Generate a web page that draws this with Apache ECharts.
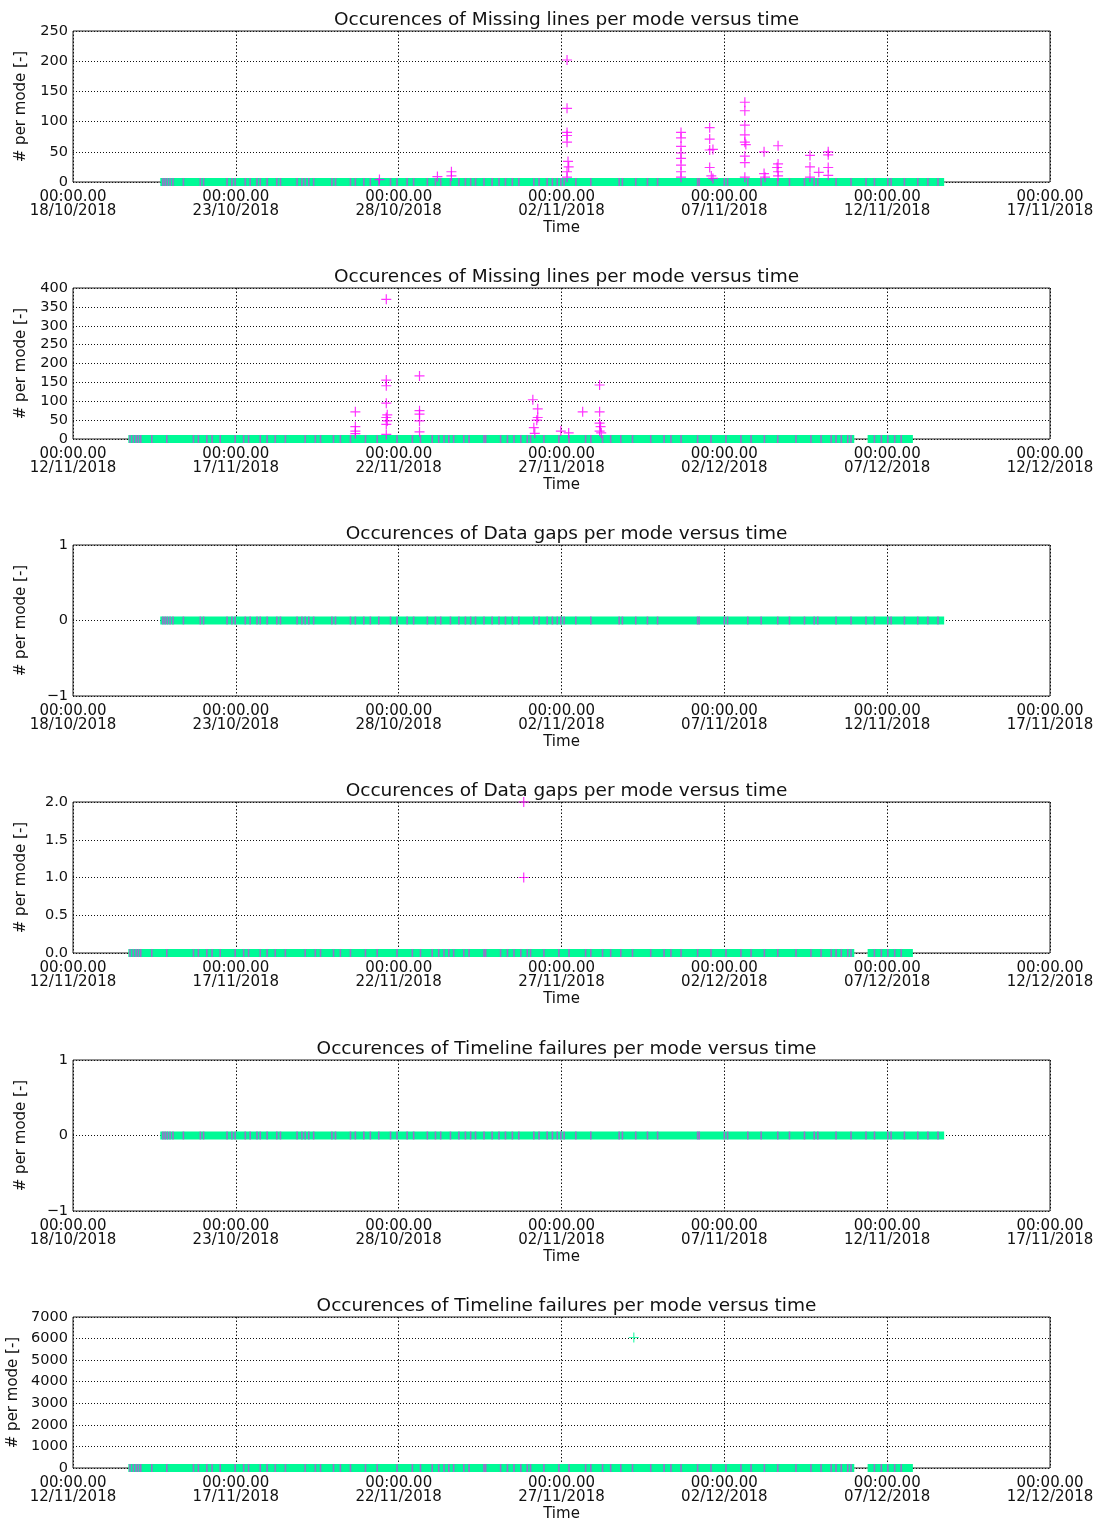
<!DOCTYPE html>
<html><head><meta charset="utf-8">
<script src="https://cdn.jsdelivr.net/npm/echarts@6/dist/echarts.min.js"></script>
<style>html,body{margin:0;padding:0;background:#fff}#c{width:1104px;height:1521px}</style>
</head><body><div id="c"></div>
<script>
// ---------------- DATA ----------------
// x values are days after the panel's start date (00:00 UTC)
const titleMissing = 'Occurences of Missing lines per mode versus time';
const titleGaps = 'Occurences of Data gaps per mode versus time';
const titleTimeline = 'Occurences of Timeline failures per mode versus time';

const startA = '2018-10-18';   // panels 1, 3, 5
const startB = '2018-11-12';   // panels 2, 4, 6

// periods where mode-1 (green) samples with value 0 are present
const coverageA = [[2.68, 26.75]];
const coverageB = [[1.70, 23.99], [24.40, 25.79]];

// mode-2 (magenta) samples with value 0
const mode2ZeroA = [2.76,2.83,2.90,2.98,3.07,3.39,3.91,4.01,4.73,4.88,4.98,5.29,5.44,5.65,5.75,5.96,6.26,6.37,6.88,7.03,7.13,7.24,7.39,7.95,8.06,8.52,8.67,8.93,9.13,9.39,9.75,9.95,10.26,10.46,10.88,11.13,11.29,11.59,11.85,12.05,12.21,12.36,12.62,12.87,13.08,13.28,13.49,13.69,14.15,14.31,14.56,14.72,14.87,14.98,15.08,15.44,15.90,16.77,16.87,17.28,17.64,17.95,19.18,19.23,20.00,20.10,20.72,21.13,21.64,22.00,22.46,22.76,22.87,23.43,23.89,24.35,24.61,25.02,25.12,25.53,25.94,26.25,26.56];
const mode2ZeroB = [1.75,1.85,1.94,2.01,2.08,2.42,2.88,3.70,3.85,4.11,4.27,4.52,4.98,5.24,5.39,5.75,5.96,6.21,6.52,7.13,7.44,7.60,8.00,8.21,8.52,8.98,9.34,9.95,10.42,10.67,11.03,11.23,11.39,11.54,11.69,12.00,12.16,12.62,12.67,13.13,13.34,13.54,13.75,13.95,14.05,14.46,14.92,15.23,15.74,15.90,16.26,16.51,16.82,17.18,17.74,18.15,18.36,18.67,19.18,19.59,20.05,20.51,20.82,21.23,21.64,22.20,22.66,22.97,23.28,23.43,23.59,23.79,23.89,24.61,24.82,25.02,25.23,25.43];

// non-zero occurrences [day, count]
const missingLinesA = [
 [9.41,4],[11.19,9],[11.62,17],[11.62,10],
 [15.17,202],[15.17,122],[15.17,82],[15.17,77],[15.17,66],[15.20,34],[15.22,25],[15.17,17],[15.17,8],
 [18.67,82],[18.67,73],[18.67,59],[18.67,48],[18.67,39],[18.67,28],[18.67,17],[18.67,8],
 [19.55,90],[19.55,71],[19.55,53],[19.65,54],[19.55,24],[19.60,10],[19.65,6],
 [20.63,132],[20.63,118],[20.63,94],[20.63,78],[20.63,66],[20.66,62],[20.63,43],[20.63,32],[20.63,8],
 [21.22,50],[21.22,14],[21.25,8],
 [21.65,60],[21.65,30],[21.62,24],[21.65,17],[21.65,10],
 [22.63,44],[22.63,25],[22.63,8],
 [22.90,16],
 [23.19,50],[23.19,45],[23.19,24],[23.19,11]
];
const missingLinesB = [
 [8.67,72],[8.67,33],[8.67,21],[8.67,14],
 [9.62,370],[9.62,156],[9.62,141],[9.62,95],[9.65,64],[9.62,57],[9.65,48],[9.62,39],[9.62,12],
 [10.64,167],[10.64,75],[10.64,66],[10.64,48],[10.64,19],
 [14.12,104],[14.15,30],[14.18,15],[14.27,80],[14.27,57],[14.24,50],
 [14.98,21],[15.22,16],[15.65,72],
 [16.17,143],[16.17,72],[16.17,42],[16.20,33],[16.17,21],[16.22,16]
];
const dataGapsB = [[13.84,2],[13.84,1]];
const timelineMode1B = [[17.22,6050]];

// y axis ranges [min, max, step]
const yRange1 = [0, 250, 50];
const yRange2 = [0, 400, 50];
const yRange3 = [-1, 1, 1];
const yRange4 = [0, 2, 0.5];
const yRange5 = [-1, 1, 1];
const yRange6 = [0, 7000, 1000];
const xSpanDays = 30, xStepDays = 5;

const panels = [
 {title: titleMissing,  start: startA, cover: coverageA, zero: mode2ZeroA, m2: missingLinesA, m1: [], y: yRange1, dec: 0},
 {title: titleMissing,  start: startB, cover: coverageB, zero: mode2ZeroB, m2: missingLinesB, m1: [], y: yRange2, dec: 0},
 {title: titleGaps,     start: startA, cover: coverageA, zero: mode2ZeroA, m2: [], m1: [], y: yRange3, dec: 0},
 {title: titleGaps,     start: startB, cover: coverageB, zero: mode2ZeroB, m2: dataGapsB, m1: [], y: yRange4, dec: 1},
 {title: titleTimeline, start: startA, cover: coverageA, zero: mode2ZeroA, m2: [], m1: [], y: yRange5, dec: 0},
 {title: titleTimeline, start: startB, cover: coverageB, zero: mode2ZeroB, m2: [], m1: timelineMode1B, y: yRange6, dec: 0}
];

// ---------------- STYLE / LAYOUT ----------------
const FONT = 'DejaVu Sans';
const GREEN = '#00fa96';
const MAGENTA = '#ff00ff';
const TICKCOL = '#c04cd8';
const PLUS = 'path://M0,4.4H10V5.6H0Z M4.4,0H5.6V10H4.4Z';
const tops = [31, 288, 545, 802, 1060, 1317];
const nameGaps = [44, 44, 44, 44, 44, 52];
const LEFT = 73, WIDTH = 977, HEIGHT = 151;

function dateLabel(start, d) {
  const p = start.split('-').map(Number);
  const t = new Date(Date.UTC(p[0], p[1]-1, p[2]) + Math.round(d*86400000));
  const z = n => String(n).padStart(2,'0');
  return z(t.getUTCHours()) + ':' + z(t.getUTCMinutes()) + '.' + z(t.getUTCSeconds()) + '\n' +
    z(t.getUTCDate()) + '/' + z(t.getUTCMonth()+1) + '/' + t.getUTCFullYear();
}

const option = {animation: false, backgroundColor: '#fff', title: [], grid: [], xAxis: [], yAxis: [], series: []};

panels.forEach((p, i) => {
  option.title.push({
    text: p.title, left: LEFT + WIDTH/2, top: tops[i] - 25, textAlign: 'center',
    textStyle: {fontFamily: FONT, fontSize: 18.5, fontWeight: 'normal', color: '#111'}
  });
  option.grid.push({left: LEFT, top: tops[i], width: WIDTH, height: HEIGHT,
    containLabel: false, outerBoundsMode: 'none',
    show: true, borderColor: '#222', borderWidth: 1, backgroundColor: 'transparent'});
  option.xAxis.push({
    type: 'value', gridIndex: i, min: 0, max: xSpanDays, interval: xStepDays,
    name: 'Time', nameLocation: 'middle', nameGap: 39, nameMoveOverlap: false,
    nameTextStyle: {fontFamily: FONT, fontSize: 15, color: '#111'},
    axisLine: {show: false}, axisTick: {show: false},
    axisLabel: {fontFamily: FONT, fontSize: 15, lineHeight: 14, color: '#111', margin: 8,
      showMinLabel: true, showMaxLabel: true, hideOverlap: false, formatter: v => dateLabel(p.start, v)},
    splitLine: {show: true, lineStyle: {color: '#111', width: 1, type: [1.5, 2]}}
  });
  option.yAxis.push({
    type: 'value', gridIndex: i, min: p.y[0], max: p.y[1], interval: p.y[2],
    name: '# per mode [-]', nameLocation: 'middle', nameRotate: 90, nameGap: nameGaps[i], nameMoveOverlap: false,
    nameTextStyle: {fontFamily: FONT, fontSize: 15, color: '#111'},
    axisLine: {show: false}, axisTick: {show: false},
    axisLabel: {fontFamily: FONT, fontSize: 14.5, color: '#111', margin: 5,
      formatter: v => v.toFixed(p.dec).replace('-', '\u2212')},
    splitLine: {show: true, lineStyle: {color: '#111', width: 1, type: [1, 2]}}
  });
  // green strip of mode-1 zero samples
  option.series.push({
    type: 'custom', xAxisIndex: i, yAxisIndex: i, clip: false, silent: true,
    data: p.cover.map(c => [c[0], c[1], 0]), encode: {x: [0, 1], y: 2},
    renderItem: (params, api) => {
      const a = api.coord([api.value(0), 0]);
      const b = api.coord([api.value(1), 0]);
      return {type: 'rect', shape: {x: a[0], y: a[1] - 4, width: b[0] - a[0], height: 8},
        style: {fill: GREEN}};
    }
  });
  // magenta zero samples
  option.series.push({
    type: 'scatter', xAxisIndex: i, yAxisIndex: i, silent: true, clip: false,
    symbol: 'rect', symbolSize: [1.6, 8], itemStyle: {color: TICKCOL},
    data: p.zero.map(d => [d, 0])
  });
  if (p.m2.length) option.series.push({
    type: 'scatter', xAxisIndex: i, yAxisIndex: i, silent: true, clip: false,
    symbol: PLUS, symbolSize: 10, itemStyle: {color: MAGENTA}, data: p.m2
  });
  if (p.m1.length) option.series.push({
    type: 'scatter', xAxisIndex: i, yAxisIndex: i, silent: true, clip: false,
    symbol: PLUS, symbolSize: 10, itemStyle: {color: GREEN}, data: p.m1
  });
});

const chart = echarts.init(document.getElementById('c'), null, {renderer: 'canvas'});
chart.setOption(option);
</script>
</body></html>
